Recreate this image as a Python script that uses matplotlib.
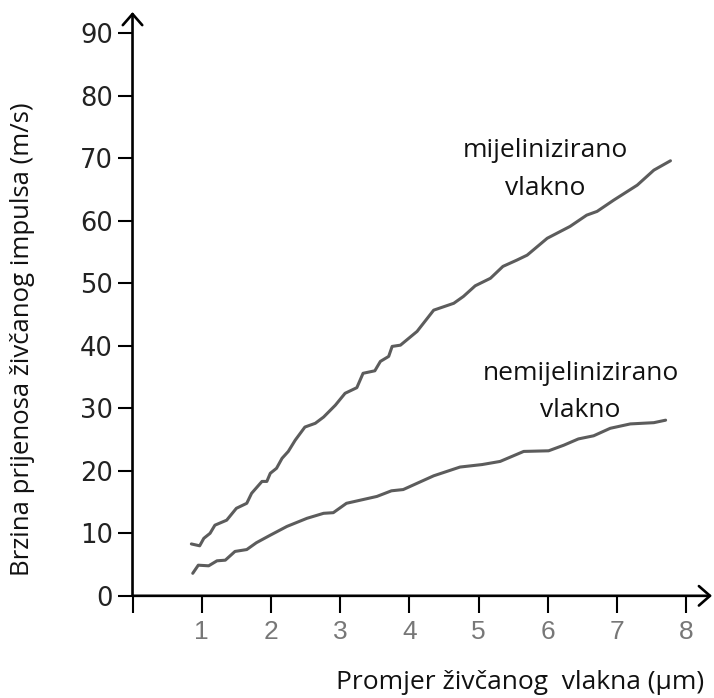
import matplotlib
matplotlib.use('Agg')
import matplotlib.pyplot as plt

# mijelinizirano vlakno
x_mij = [0.85, 0.97, 1.03, 1.12, 1.19, 1.36, 1.50, 1.65, 1.72, 1.87, 1.94, 1.99, 2.08, 2.16, 2.25,
         2.35, 2.49, 2.64, 2.76, 2.93, 3.07, 3.24, 3.33, 3.50, 3.58, 3.70, 3.75, 3.87, 4.11, 4.35,
         4.64, 4.78, 4.95, 5.17, 5.35, 5.55, 5.70, 5.99, 6.32, 6.56, 6.71, 6.95, 7.29, 7.53, 7.77]
y_mij = [8.3, 8.0, 9.2, 10.0, 11.3, 12.1, 14.0, 14.8, 16.4, 18.3, 18.3, 19.6, 20.4, 22.0, 23.1,
         24.9, 27.0, 27.6, 28.6, 30.5, 32.4, 33.3, 35.6, 36.0, 37.5, 38.3, 39.9, 40.1, 42.3, 45.7,
         46.8, 47.9, 49.6, 50.8, 52.7, 53.7, 54.5, 57.2, 59.1, 60.9, 61.5, 63.3, 65.7, 68.1, 69.6]

# nemijelinizirano vlakno
x_nem = [0.87, 0.95, 1.10, 1.22, 1.34, 1.48, 1.65, 1.79, 1.99, 2.23, 2.52, 2.76, 2.90, 3.09, 3.29,
         3.53, 3.74, 3.91, 4.35, 4.73, 5.05, 5.31, 5.65, 6.01, 6.23, 6.44, 6.66, 6.90, 7.19, 7.53, 7.70]
y_nem = [3.6, 4.9, 4.8, 5.6, 5.7, 7.1, 7.4, 8.5, 9.7, 11.1, 12.4, 13.2, 13.3, 14.8, 15.3,
         15.9, 16.8, 17.0, 19.2, 20.6, 21.0, 21.5, 23.1, 23.2, 24.1, 25.1, 25.6, 26.8, 27.5, 27.7, 28.1]

x_ticks = [0, 1, 2, 3, 4, 5, 6, 7, 8]
x_ticklabels = ['', '1', '2', '3', '4', '5', '6', '7', '8']
y_ticks = [0, 10, 20, 30, 40, 50, 60, 70, 80, 90]

XMAX = 8.37
YMAX = 93.4
LINE_COLOR = '#5c5c5c'

fig = plt.figure(figsize=(7.14, 6.98), dpi=100)
ax = fig.add_axes([0.1856, 0.1464, 0.8116, 0.8364])

ax.plot(x_mij, y_mij, color=LINE_COLOR, lw=2.2, solid_capstyle='round')
ax.plot(x_nem, y_nem, color=LINE_COLOR, lw=2.2, solid_capstyle='round')

ax.set_xlim(0, XMAX)
ax.set_ylim(0, YMAX)
for s in ax.spines.values():
    s.set_visible(False)

# axes with open arrow heads
arrow = dict(arrowstyle='->,head_length=0.8,head_width=0.7', lw=1.9, color='black',
             shrinkA=0, shrinkB=0)
ax.annotate('', xy=(0, YMAX), xytext=(0, 0), arrowprops=arrow, annotation_clip=False)
ax.annotate('', xy=(XMAX, 0), xytext=(0, 0), arrowprops=arrow, annotation_clip=False)

ax.set_yticks(y_ticks)
ax.set_yticklabels([str(v) for v in y_ticks], fontsize=18.5, color='#222222', family='DejaVu Sans')
ax.tick_params(axis='y', direction='out', length=11, width=1.5, pad=3)

ax.set_xticks(x_ticks)
ax.set_xticklabels(x_ticklabels, fontsize=19, color='#777777', family='Liberation Sans')
ax.tick_params(axis='x', direction='out', length=12.5, width=1.5, pad=5)

txt = dict(fontsize=19, family='Open Sans', color='#111111', ha='center', va='center')
ax.text(5.96, 71.3, 'mijelinizirano', **txt)
ax.text(5.96, 65.2, 'vlakno', **txt)
ax.text(6.47, 35.6, 'nemijelinizirano', **txt)
ax.text(6.47, 29.7, 'vlakno', **txt)

fig.text(0.031, 0.514, 'Brzina prijenosa živčanog impulsa (m/s)', rotation=90, fontsize=18.5,
         family='Open Sans', color='#111111', ha='center', va='center')
fig.text(0.728, 0.0215, 'Promjer živčanog  vlakna (µm)', fontsize=19,
         family='Open Sans', color='#111111', ha='center', va='center')

fig.savefig('out.png', dpi=100)
